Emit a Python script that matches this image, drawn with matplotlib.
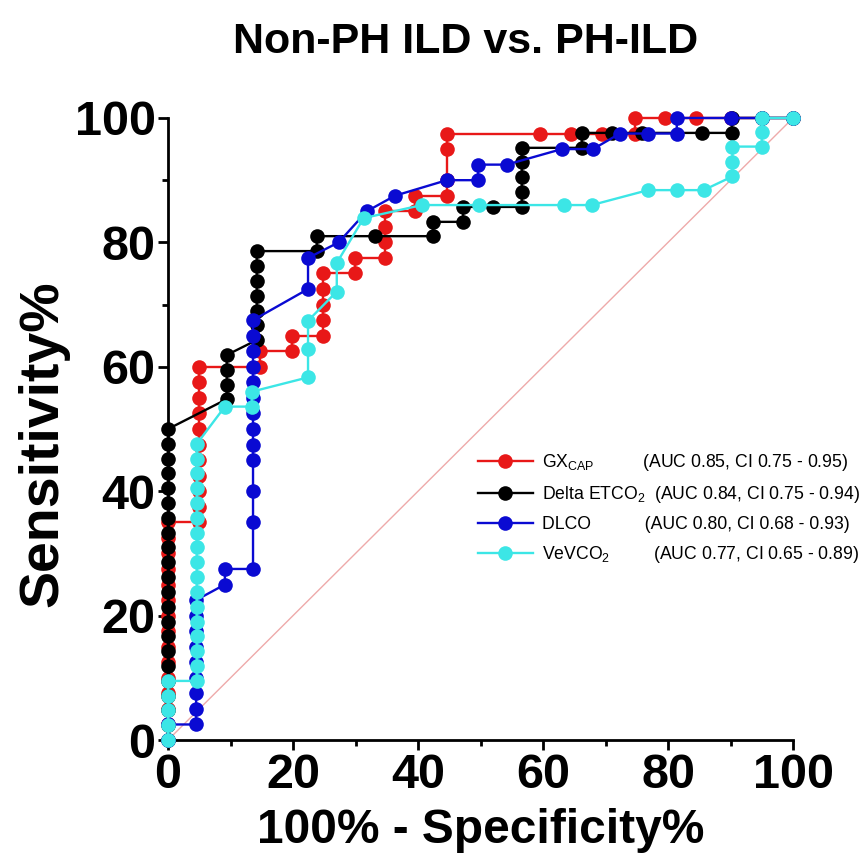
import numpy as np
import matplotlib
matplotlib.use('Agg')
import matplotlib.pyplot as plt

plt.rcParams['font.family'] = ['Liberation Sans', 'DejaVu Sans']

# ROC points (100% - specificity, sensitivity)
gx_x = [0, 0, 0, 0, 0, 0, 0, 0, 0, 0, 0, 0, 0, 0, 0,
        5, 5, 5, 5, 5, 5, 5, 5, 5, 5, 5,
        14.7, 14.7, 19.8, 19.8, 24.8, 24.8, 24.8, 24.8, 24.8, 29.9, 29.9,
        34.7, 34.7, 34.7, 34.7, 39.5, 39.5, 44.7, 44.7, 44.7, 44.7,
        59.5, 64.5, 69.5, 74.7, 74.7, 79.5, 84.5, 90, 95, 100]
gx_y = [0, 2.5, 5, 7.5, 10, 12.5, 15, 17.5, 20, 22.5, 25, 27.5, 30, 32.5, 35,
        35, 37.5, 40, 42.5, 45, 47.5, 50, 52.5, 55, 57.5, 60,
        60, 62.5, 62.5, 65, 65, 67.5, 70, 72.5, 75, 75, 77.5,
        77.5, 80, 82.5, 85, 85, 87.5, 87.5, 90, 95, 97.5,
        97.5, 97.5, 97.5, 97.5, 100, 100, 100, 100, 100, 100]

etco2_x = [0, 0, 0, 0, 0, 0, 0, 0, 0, 0, 0, 0, 0, 0, 0, 0, 0, 0, 0, 0, 0, 0,
           9.4, 9.4, 9.4, 9.4,
           14.2, 14.2, 14.2, 14.2, 14.2, 14.2, 14.2,
           23.8, 23.8, 33.1, 42.4, 42.4, 47.2, 47.2, 52,
           56.6, 56.6, 56.6, 56.6, 56.6, 66.2, 66.2,
           71, 75.8, 85.4, 90.2, 90.2, 95, 100]
etco2_y = [0, 2.4, 4.8, 7.1, 9.5, 11.9, 14.3, 16.7, 19, 21.4, 23.8, 26.2, 28.6, 31,
           33.3, 35.7, 38.1, 40.5, 42.9, 45.2, 47.6, 50,
           54.8, 57.1, 59.5, 61.9,
           64.3, 66.7, 69, 71.4, 73.8, 76.2, 78.6,
           78.6, 81, 81, 81, 83.3, 83.3, 85.7, 85.7,
           85.7, 88.1, 90.5, 92.9, 95.2, 95.2, 97.6,
           97.6, 97.6, 97.6, 97.6, 100, 100, 100]

dlco_x = [0, 0, 4.5, 4.5, 4.5, 4.5, 4.5, 4.5, 4.5, 4.5, 4.5,
          9.1, 9.1, 13.6, 13.6, 13.6, 13.6, 13.6, 13.6, 13.6, 13.6, 13.6,
          13.6, 13.6, 13.6, 13.6, 22.4, 22.4, 27.3, 31.8, 36.3, 44.6,
          49.6, 49.6, 54.2, 63, 68, 72.3, 76.8, 81.4, 81.4, 90, 95, 100]
dlco_y = [0, 2.5, 2.5, 5, 7.5, 10, 12.5, 15, 17.5, 20, 22.5,
          25, 27.5, 27.5, 35, 40, 45, 47.5, 50, 52.5, 55, 57.5,
          60, 62.5, 65, 67.5, 72.5, 77.5, 80, 85, 87.5, 90,
          90, 92.5, 92.5, 95, 95, 97.5, 97.5, 97.5, 100, 100, 100, 100]

vevco2_x = [0, 0, 0, 0, 0,
            4.6, 4.6, 4.6, 4.6, 4.6, 4.6, 4.6, 4.6, 4.6, 4.6, 4.6, 4.6, 4.6,
            4.6, 4.6, 4.6, 4.6,
            9.1, 13.4, 13.4, 22.4, 22.4, 22.4, 27, 27, 31.3,
            40.6, 49.7, 63.3, 67.8, 76.8, 81.4, 85.7,
            90.3, 90.3, 90.3, 95, 95, 95, 100]
vevco2_y = [0, 2.4, 4.8, 7.1, 9.5,
            9.5, 11.9, 14.3, 16.7, 19, 21.4, 23.8, 26.2, 28.6, 31, 33.3, 35.7, 38.1,
            40.5, 42.9, 45.2, 47.6,
            53.6, 53.6, 56, 58.3, 62.9, 67.4, 72.1, 76.7, 83.9,
            86, 86, 86, 86, 88.4, 88.4, 88.4,
            90.6, 93, 95.4, 95.4, 97.8, 100, 100]

labels = ['GX$_\\mathregular{CAP}$          (AUC 0.85, CI 0.75 - 0.95)',
          'Delta ETCO$_\\mathregular{2}$  (AUC 0.84, CI 0.75 - 0.94)',
          'DLCO           (AUC 0.80, CI 0.68 - 0.93)',
          'VeVCO$_\\mathregular{2}$         (AUC 0.77, CI 0.65 - 0.89)']
colors = ['#e81818', '#000000', '#0a0ad2', '#3ce6e6']

fig = plt.figure(figsize=(8.67, 8.63), dpi=100)
ax = fig.add_axes([0.1938, 0.1425, 0.7209, 0.7208])

ax.plot([0, 100], [0, 100], color='#eeaaaa', lw=1.0, zorder=1)

series = [(gx_x, gx_y), (etco2_x, etco2_y), (dlco_x, dlco_y), (vevco2_x, vevco2_y)]
handles = []
for k, (xs, ys) in enumerate(series):
    h, = ax.plot(xs, ys, '-o', color=colors[k], ms=10.5, lw=1.7, mew=0,
                 clip_on=False, zorder=2 + k)
    handles.append(h)

ax.set_xlim(0, 100)
ax.set_ylim(0, 100)
ax.set_xticks([0, 20, 40, 60, 80, 100])
ax.set_yticks([0, 20, 40, 60, 80, 100])
ax.set_xticks([10, 30, 50, 70, 90], minor=True)
ax.set_yticks([10, 30, 50, 70, 90], minor=True)
ax.spines['top'].set_visible(False)
ax.spines['right'].set_visible(False)
ax.spines['left'].set_linewidth(2)
ax.spines['bottom'].set_linewidth(2)
ax.tick_params(which='major', length=7, width=2, labelsize=35, pad=2)
ax.tick_params(which='minor', length=4.5, width=2)
for t in ax.get_xticklabels() + ax.get_yticklabels():
    t.set_fontweight('bold')

ax.set_xlabel('100% - Specificity%', fontsize=34.5, fontweight='bold', va='center')
ax.xaxis.set_label_coords(0.5, -0.145)
ax.set_ylabel('Sensitivity%', fontsize=40, fontweight='bold', va='center')
ax.yaxis.set_label_coords(-0.2, 0.476)

fig.text(466 / 867, 1 - 42 / 863, 'Non-PH ILD vs. PH-ILD', fontsize=31,
         fontweight='bold', ha='center', va='center')

ax.legend(handles, labels, loc='upper left', bbox_to_anchor=(478 / 867, 1 - 452 / 863),
          bbox_transform=fig.transFigure, frameon=False, fontsize=12.7,
          handlelength=3.1, handletextpad=0.5, labelspacing=0.62,
          borderpad=0, borderaxespad=0)

plt.savefig('out.png', dpi=100)
